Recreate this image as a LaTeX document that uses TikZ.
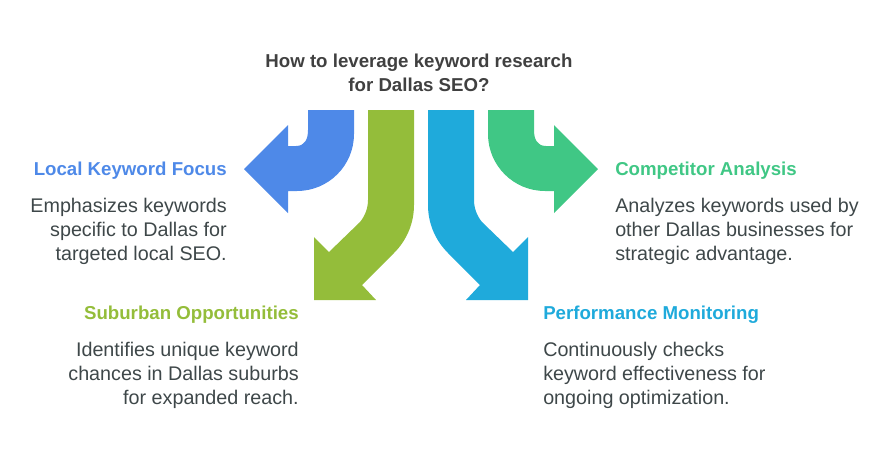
\documentclass[tikz,border=0pt]{standalone}
\usepackage{fontspec}
\setmainfont{Liberation Sans}
\definecolor{localblue}{RGB}{78,137,232}
\definecolor{suburbgreen}{RGB}{148,189,58}
\definecolor{monitorcyan}{RGB}{31,170,219}
\definecolor{rivalgreen}{RGB}{64,199,133}
\definecolor{titlegray}{RGB}{64,64,64}
\definecolor{bodygray}{RGB}{62,71,73}
\tikzset{
  headtext/.style={inner sep=0pt,font=\bfseries\fontsize{14}{18}\selectfont},
  bodytext/.style={inner sep=0pt,text=bodygray,font=\fontsize{14.8}{18}\selectfont},
}
\begin{document}
\begin{tikzpicture}[x=0.75pt,y=0.75pt,yscale=-1,xscale=1]
  \useasboundingbox (0,0) rectangle (890,458);

  %Shape: Arrow left
  \fill [localblue]  (308,110) -- (308,130) .. controls (308,139) and (305,146) .. (296,146) -- (288,146) -- (288,125) -- (244,169) -- (288,213) -- (288,191) -- (297,191) .. controls (328.5,191) and (354,165.5) .. (354,134) -- (354,110) -- cycle ;
  %Shape: Arrow down left
  \fill [suburbgreen]  (368,110) -- (368,200) .. controls (368,208) and (365,216) .. (360,222) -- (329,252) -- (314,237) -- (314,300) -- (376,300) -- (362,285) -- (394,253) .. controls (407,240) and (414,223) .. (414,205) -- (414,110) -- cycle ;
  %Shape: Arrow down right
  \fill [monitorcyan]  (474,110) -- (474,200) .. controls (474,208) and (477,216) .. (482,222) -- (513,252) -- (528,237) -- (528,300) -- (466,300) -- (480,285) -- (448,253) .. controls (435,240) and (428,223) .. (428,205) -- (428,110) -- cycle ;
  %Shape: Arrow right
  \fill [rivalgreen]  (534,110) -- (534,130) .. controls (534,139) and (537,146) .. (546,146) -- (554,146) -- (554,125) -- (598,169) -- (554,213) -- (554,191) -- (545,191) .. controls (513.5,191) and (488,165.5) .. (488,134) -- (488,110) -- cycle ;

  % Text Node
  \node (title) at (419,73) [headtext,text=titlegray,align=center] {How to leverage keyword research\\for Dallas SEO?};
  % Text Node
  \node (localhead) at (227,171) [headtext,text=localblue,anchor=east] {Local Keyword Focus};
  \node (localbody) at (227,231) [bodytext,anchor=east,align=right] {Emphasizes keywords\\specific to Dallas for\\targeted local SEO.};
  % Text Node
  \node (suburbhead) at (299,315) [headtext,text=suburbgreen,anchor=east] {Suburban Opportunities};
  \node (suburbbody) at (299,375) [bodytext,anchor=east,align=right] {Identifies unique keyword\\chances in Dallas suburbs\\for expanded reach.};
  % Text Node
  \node (monitorhead) at (543,315) [headtext,text=monitorcyan,anchor=west] {Performance Monitoring};
  \node (monitorbody) at (543,375) [bodytext,anchor=west,align=left] {Continuously checks\\keyword effectiveness for\\ongoing optimization.};
  % Text Node
  \node (rivalhead) at (615,171) [headtext,text=rivalgreen,anchor=west] {Competitor Analysis};
  \node (rivalbody) at (615,231) [bodytext,anchor=west,align=left] {Analyzes keywords used by\\other Dallas businesses for\\strategic advantage.};
\end{tikzpicture}
\end{document}
